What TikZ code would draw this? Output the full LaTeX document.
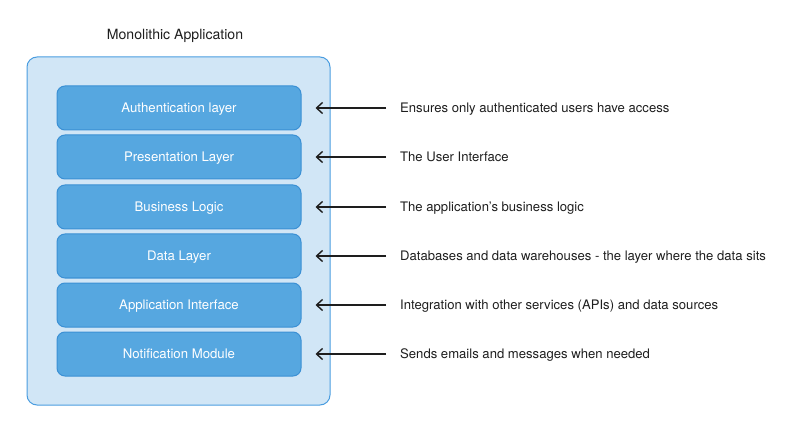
\documentclass[tikz,border=0pt]{standalone}
\usepackage{fontspec}
\setmainfont{TeX Gyre Heros}
\usetikzlibrary{arrows.meta}
\definecolor{appfill}{HTML}{D1E6F6}
\definecolor{appline}{HTML}{4A9DE0}
\definecolor{layerfill}{HTML}{56A7E0}
\definecolor{layerline}{HTML}{3B90D4}
\definecolor{txt}{HTML}{1E1E1E}

\begin{document}
\begin{tikzpicture}[x=1pt, y=-1pt, >={Straight Barb[length=6pt,width=11pt]},
    layer/.style={draw=layerline, fill=layerfill, line width=1pt, rounded corners=8pt,
        minimum width=244pt, minimum height=44pt, text=white, text height=9.4pt, text depth=0pt,
        font=\fontsize{13.2}{15}\selectfont},
    desc/.style={anchor=west, inner sep=0pt, text=txt, text height=9.4pt, text depth=0pt,
        font=\fontsize{13.1}{15}\selectfont}]
    \useasboundingbox (0,0) rectangle (800,430);
    \node[text=txt, text height=10pt, text depth=0pt, font=\fontsize{14.1}{16}\selectfont] (title) at (175,35) {Monolithic Application};
    \draw[draw=appline, fill=appfill, line width=1pt, rounded corners=10pt] (27,57) rectangle (330,405);
    \node[layer] (l1) at (179,108) {Authentication layer};
    \node[layer] (l2) at (179,157) {Presentation Layer};
    \node[layer] (l3) at (179,207) {Business Logic};
    \node[layer] (l4) at (179,256) {Data Layer};
    \node[layer] (l5) at (179,305) {Application Interface};
    \node[layer] (l6) at (179,354) {Notification Module};
    \node[desc] (d1) at (400,108) {Ensures only authenticated users have access};
    \node[desc] (d2) at (400,157) {The User Interface};
    \node[desc] (d3) at (400,207) {The application's business logic};
    \node[desc] (d4) at (400,256) {Databases and data warehouses - the layer where the data sits};
    \node[desc] (d5) at (400,305) {Integration with other services (APIs) and data sources};
    \node[desc] (d6) at (400,354) {Sends emails and messages when needed};
    \draw[->, txt, line width=1.4pt] ([xshift=-14pt]d1.west) -- ([xshift=14pt]l1.east);
    \draw[->, txt, line width=1.4pt] ([xshift=-14pt]d2.west) -- ([xshift=14pt]l2.east);
    \draw[->, txt, line width=1.4pt] ([xshift=-14pt]d3.west) -- ([xshift=14pt]l3.east);
    \draw[->, txt, line width=1.4pt] ([xshift=-14pt]d4.west) -- ([xshift=14pt]l4.east);
    \draw[->, txt, line width=1.4pt] ([xshift=-14pt]d5.west) -- ([xshift=14pt]l5.east);
    \draw[->, txt, line width=1.4pt] ([xshift=-14pt]d6.west) -- ([xshift=14pt]l6.east);
\end{tikzpicture}
\end{document}
